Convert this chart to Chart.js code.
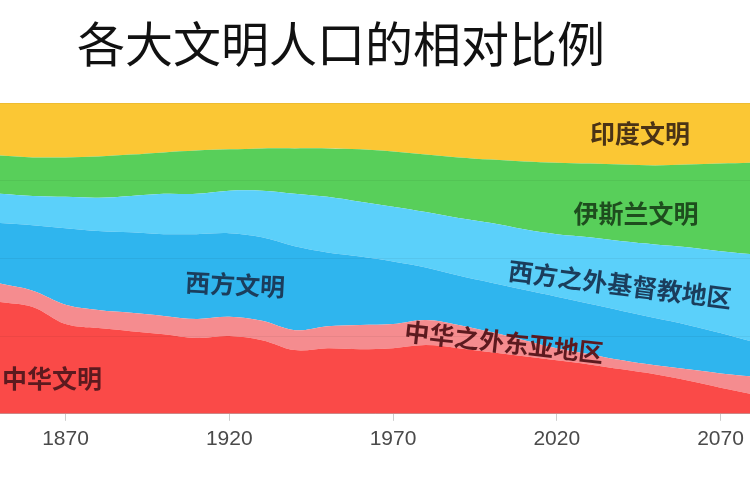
<!DOCTYPE html>
<html>
<head>
<meta charset="utf-8">
<script src="https://cdn.jsdelivr.net/npm/chart.js@4"></script>
<style>
  html, body { margin: 0; padding: 0; background: #fff; }
  #wrap { width: 750px; height: 500px; position: relative; }
</style>
</head>
<body>
<div id="wrap"><canvas id="civChart"></canvas></div>
<script>
const years = [1850, 1860, 1870, 1880, 1890, 1900, 1910, 1920, 1930, 1940, 1950, 1960,
               1970, 1980, 1990, 2000, 2010, 2020, 2030, 2040, 2050, 2060, 2070, 2080];

// share of world population, percent (bottom to top of the stack)
const china          = [36.0, 34.4, 28.9, 27.6, 26.6, 25.6, 24.4, 25.0, 23.7, 20.5, 21.1, 20.8,
                        21.1, 22.1, 21.1, 19.8, 18.5, 17.2, 15.9, 14.3, 12.7, 10.7, 8.4, 6.2];
const eastAsiaOther  = [5.9, 5.2, 6.2, 5.8, 5.9, 5.9, 6.1, 6.2, 6.2, 6.4, 7.1, 7.8,
                        7.8, 8.1, 7.5, 6.5, 5.2, 3.9, 3.3, 2.9, 2.9, 3.6, 4.6, 5.8];
const west           = [19.5, 21.1, 24.6, 25.4, 25.9, 26.3, 27.3, 26.9, 26.9, 27.0, 23.7, 22.0,
                        20.1, 16.9, 15.9, 15.9, 16.2, 16.6, 16.2, 15.9, 15.2, 14.3, 13.0, 11.1];
const christianOther = [9.4, 9.4, 10.1, 10.7, 11.7, 13.0, 13.0, 13.7, 15.0, 16.9, 17.9, 17.6,
                        17.6, 17.8, 18.5, 19.2, 19.5, 20.1, 21.4, 22.4, 23.7, 25.0, 26.3, 28.2];
const islam          = [12.3, 12.4, 12.7, 13.3, 13.3, 13.3, 13.9, 13.3, 13.6, 14.6, 15.6, 16.9,
                        17.8, 18.5, 19.5, 20.4, 21.8, 23.0, 23.7, 24.7, 25.4, 26.6, 28.2, 29.5];
const india          = [16.9, 17.5, 17.5, 17.2, 16.6, 15.9, 15.3, 14.9, 14.6, 14.6, 14.6, 14.9,
                        15.6, 16.6, 17.5, 18.2, 18.8, 19.2, 19.5, 19.8, 20.1, 19.8, 19.5, 19.2];

const seriesNames = ['中华文明', '中华之外东亚地区', '西方文明', '西方之外基督教地区', '伊斯兰文明', '印度文明'];
const tickYears = [1870, 1920, 1970, 2020, 2070];

// in-chart labels: text, year, percent height, angle (deg)
const labelTexts  = ['中华文明', '中华之外东亚地区', '西方文明', '西方之外基督教地区', '伊斯兰文明', '印度文明'];
const labelYears  = [1865.9, 2003.9, 1921.8, 2039.3, 2044.2, 2045.4];
const labelPct    = [11.4, 23.1, 41.6, 41.6, 64.6, 90.3];
const labelAngles = [0, 6.3, 3, 7.2, 0, 0];

const titleText = '各大文明人口的相对比例';

const fills = ['#fa4a48', '#f58c8f', '#2fb5ee', '#5bd0fa', '#58cf5a', '#fbc734'];
const labelColors = ['#5c1a1f', '#5c1a1f', '#1b3d5c', '#1b3d5c', '#1e4d1e', '#4a3316'];

function toPoints(values) {
    return values.map((v, i) => ({ x: years[i], y: v }));
}

const allSeries = [china, eastAsiaOther, west, christianOther, islam, india];

const datasets = allSeries.map((values, i) => ({
    label: seriesNames[i],
    data: toPoints(values),
    backgroundColor: fills[i],
    borderWidth: 0,
    pointRadius: 0,
    tension: 0.35,
    fill: i === 0 ? 'origin' : '-1'
}));

const areaLabels = {
    id: 'areaLabels',
    afterDatasetsDraw(chart) {
        const ctx = chart.ctx;
        const xs = chart.scales.x;
        const ys = chart.scales.y;
        ctx.save();
        ctx.font = 'bold 25px "Noto Sans CJK SC", sans-serif';
        ctx.textAlign = 'center';
        ctx.textBaseline = 'middle';
        labelTexts.forEach((t, i) => {
            ctx.save();
            ctx.translate(xs.getPixelForValue(labelYears[i]), ys.getPixelForValue(labelPct[i]));
            ctx.rotate(labelAngles[i] * Math.PI / 180);
            ctx.fillStyle = labelColors[i];
            ctx.fillText(t, 0, 0);
            ctx.restore();
        });
        ctx.restore();
    },
    afterDraw(chart) {
        const ctx = chart.ctx;
        ctx.save();
        ctx.font = '48px "Noto Sans CJK SC", sans-serif';
        ctx.fillStyle = '#111';
        ctx.textAlign = 'left';
        ctx.textBaseline = 'middle';
        ctx.fillText(titleText, 77, 44);
        ctx.restore();
    }
};

new Chart(document.getElementById('civChart'), {
    type: 'line',
    data: { datasets: datasets },
    options: {
        responsive: true,
        maintainAspectRatio: false,
        animation: false,
        layout: { padding: { top: 103, bottom: 42, left: 0, right: 0 } },
        plugins: {
            legend: { display: false },
            tooltip: { enabled: false }
        },
        scales: {
            x: {
                type: 'linear',
                min: 1850,
                max: 2079,
                afterBuildTicks: scale => {
                    scale.ticks = tickYears.map(v => ({ value: v }));
                },
                afterFit: scale => {
                    scale.paddingLeft = 0;
                    scale.paddingRight = 0;
                },
                ticks: {
                    callback: v => String(v),
                    color: '#4a4a4a',
                    padding: 6,
                    maxRotation: 0,
                    font: { family: '"Liberation Sans", Arial', size: 21 }
                },
                grid: { drawOnChartArea: false, tickLength: 7, color: '#ccc' },
                border: { display: true, color: 'rgba(0,0,0,0.25)' }
            },
            y: {
                stacked: true,
                min: 0,
                max: 100,
                ticks: { display: false, stepSize: 25 },
                grid: { drawTicks: false, color: 'rgba(0,0,0,0.05)', z: 1 },
                border: { display: false }
            }
        }
    },
    plugins: [areaLabels]
});
</script>
</body>
</html>
